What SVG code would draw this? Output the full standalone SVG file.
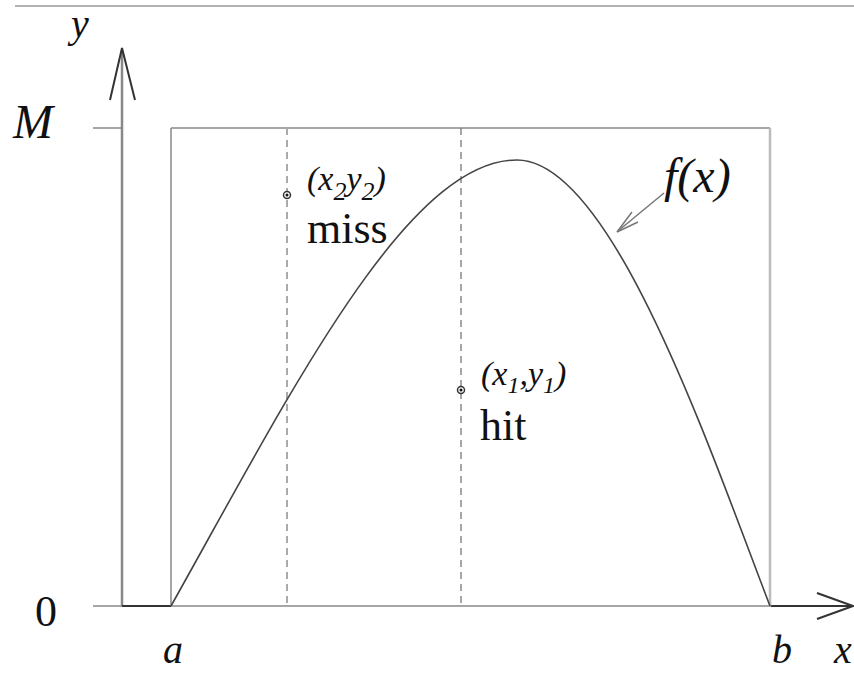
<svg xmlns="http://www.w3.org/2000/svg" width="854" height="674" viewBox="0 0 854 674">
<style>
.it{font-family:"Liberation Serif","DejaVu Serif",serif;font-style:italic;fill:#111}
.up{font-family:"Liberation Serif","DejaVu Serif",serif;fill:#111}
.ax{stroke:#888;stroke-width:2.5;fill:none}
.thin{stroke:#888;stroke-width:1.5;fill:none}
.dash{stroke:#aaa;stroke-width:2;stroke-dasharray:7 5;fill:none}
.dash2{stroke:#777;stroke-width:1.3;stroke-dasharray:7 5;fill:none}
.pt{fill:#fff;stroke:#333;stroke-width:1.5}
</style>
<rect width="854" height="674" fill="#fff"/>
<line x1="15" y1="6" x2="854" y2="6" stroke="#999" stroke-width="1.5"/>
<g id="axes">
  <line class="ax" x1="122" y1="50" x2="122" y2="606"/>
  <polyline points="110,100 122,48 135,100" fill="none" stroke="#333" stroke-width="2"/>
  <line class="thin" x1="93" y1="128" x2="122" y2="128"/>
  <line class="thin" x1="93" y1="606" x2="852" y2="606"/>
  <line x1="122" y1="606" x2="171" y2="606" stroke="#333" stroke-width="2"/>
  <line x1="771" y1="606" x2="852" y2="606" stroke="#333" stroke-width="2"/>
  <polyline points="817,593 853,606 817,619" fill="none" stroke="#333" stroke-width="2"/>
</g>
<g id="box">
  <line x1="171" y1="128" x2="770" y2="128" stroke="#888" stroke-width="1.5"/>
  <line x1="171" y1="128" x2="171" y2="606" stroke="#888" stroke-width="1.5"/>
  <line x1="770" y1="128" x2="770" y2="606" stroke="#bbb" stroke-width="2.5"/>
</g>
<g id="dashes">
  <line class="dash" x1="287" y1="128" x2="287" y2="606"/>
  <line class="dash2" x1="461" y1="128" x2="461" y2="606"/>
</g>
<g id="curve">
  <path d="M171,606 C291,392 407,160 517,160 C612,160 710,450 770,606" fill="none" stroke="#444" stroke-width="1.6"/>
</g>
<g id="connectors">
  <line x1="664" y1="193" x2="618" y2="231" stroke="#777" stroke-width="1.5"/>
  <polyline points="632,212 617,232 638,222" fill="none" stroke="#777" stroke-width="1.5"/>
</g>
<g id="p2">
  <circle class="pt" cx="287" cy="195" r="3.5"/>
  <circle cx="287" cy="195" r="1.5" fill="#111"/>
  <text class="it" x="307" y="190" font-size="34">(x<tspan font-size="26" dy="10">2</tspan><tspan dy="-10">y</tspan><tspan font-size="26" dy="10">2</tspan><tspan dy="-10">)</tspan></text>
  <text class="up" x="307" y="243" font-size="44">miss</text>
</g>
<g id="p1">
  <circle class="pt" cx="461" cy="390" r="3.5"/>
  <circle cx="461" cy="390" r="1.5" fill="#111"/>
  <text class="it" x="481" y="385" font-size="34">(x<tspan font-size="24" dy="8">1</tspan><tspan dy="-8">,y</tspan><tspan font-size="24" dy="8">1</tspan><tspan dy="-8">)</tspan></text>
  <text class="up" x="480" y="440" font-size="44">hit</text>
</g>
<g id="labels">
  <text class="it" x="71" y="37" font-size="40">y</text>
  <text class="it" x="13" y="138" font-size="48">M</text>
  <text class="up" x="35" y="626" font-size="44">0</text>
  <text class="it" x="163" y="663" font-size="40">a</text>
  <text class="it" x="772" y="663" font-size="40">b</text>
  <text class="it" x="834" y="663" font-size="40">x</text>
  <text class="it" x="664" y="192" font-size="48">f(x)</text>
</g>
</svg>
